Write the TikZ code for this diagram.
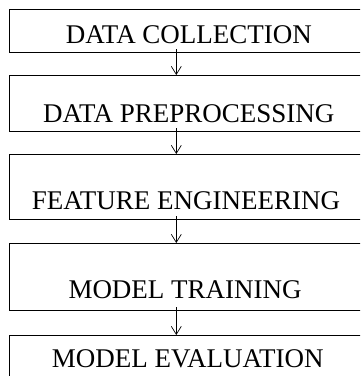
\documentclass[tikz,border=0pt]{standalone}
\usepackage{fontspec}
\setmainfont{Liberation Serif}
\usetikzlibrary{arrows.meta}
\begin{document}
\begin{tikzpicture}[x=1pt,y=-1pt,
  stagebox/.style={draw, line width=1.1pt, rectangle, inner sep=0pt, anchor=north west, minimum width=357pt},
  stagetext/.style={anchor=base west, inner sep=0pt, font=\fontsize{27}{30}\selectfont},
  flow/.style={line width=0.7pt, -{Straight Barb[length=8pt,width=10pt]}}]
\clip (0,0) rectangle (360,376);
\fill[white] (0,0) rectangle (360,376);
\node[stagebox, minimum height=43pt] (b1) at (9,9.3) {};
\node[stagebox, minimum height=56pt] (b2) at (9,75) {};
\node[stagebox, minimum height=65pt] (b3) at (9,154) {};
\node[stagebox, minimum height=67pt] (b4) at (9,243) {};
\node[stagebox, minimum height=60pt] (b5) at (9,335) {};
\node[stagetext] (t1) at (65.7,43.3) {DATA COLLECTION};
\node[stagetext] (t2) at (43,122) {DATA PREPROCESSING};
\node[stagetext] (t3) at (31.7,209.3) {FEATURE ENGINEERING};
\node[stagetext] (t4) at (68.3,298.3) {MODEL TRAINING};
\node[stagetext] (t5) at (51.7,367.7) {MODEL EVALUATION};
\coordinate (ax) at (176.3,0);
\foreach \i in {1,2,3,4} {\coordinate (s\i) at ([yshift=4pt]b\i.south);}
\draw[flow] (s1 -| ax) -- (b2.north -| ax);
\draw[flow] (s2 -| ax) -- (b3.north -| ax);
\draw[flow] (s3 -| ax) -- (b4.north -| ax);
\draw[flow] (s4 -| ax) -- (b5.north -| ax);
\end{tikzpicture}
\end{document}
